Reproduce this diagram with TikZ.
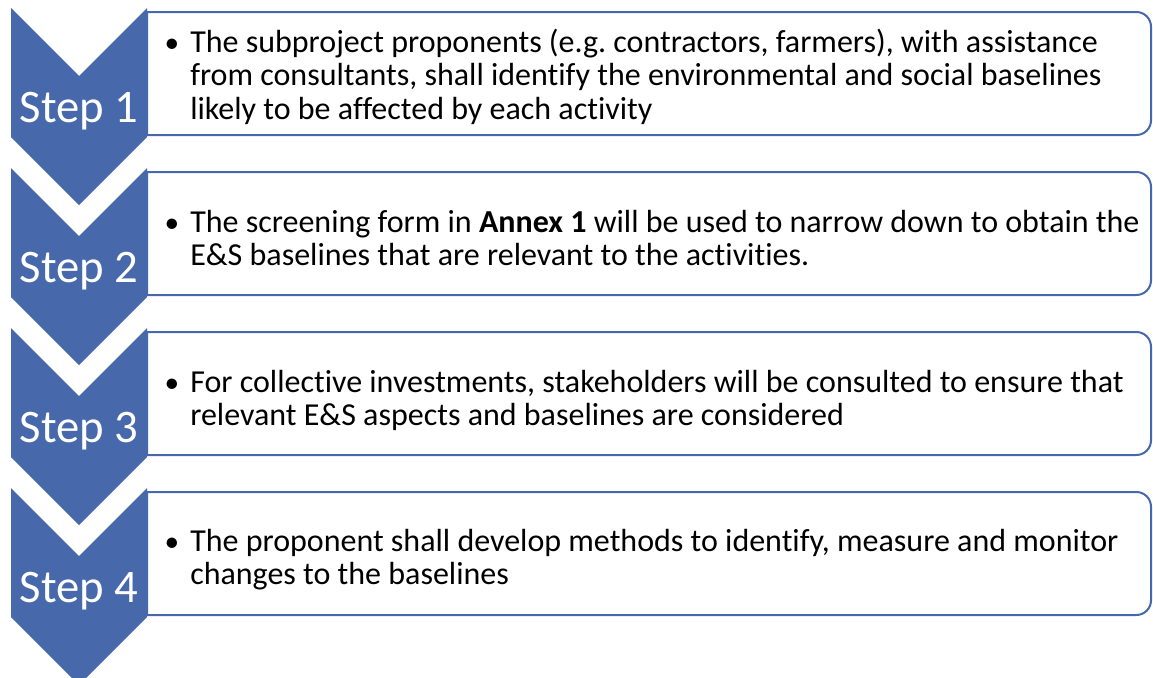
\documentclass[tikz,border=0pt]{standalone}
\usepackage{fontspec}
\setmainfont{Carlito}[Ligatures=NoCommon]
\usepackage{tikz}
\usetikzlibrary{positioning}
\definecolor{stepblue}{RGB}{72,104,172}
\frenchspacing

\begin{document}
\begin{tikzpicture}[x=0.75pt, y=-0.75pt,
    chevron/.style={fill=stepblue},
    stepbox/.style={draw=stepblue, line width=1.5pt, fill=white},
    steplabel/.style={white, anchor=base, inner sep=0pt, font=\fontsize{35}{42}\selectfont},
    bullet/.style={anchor=base, inner sep=0pt, font=\fontsize{22}{25}\selectfont},
    bodytext/.style={anchor=base west, align=left, inner sep=0pt, font=\fontsize{24}{25.1}\selectfont}]
    \useasboundingbox (0,0) rectangle (1153,678);
    \foreach \k in {1,...,4} {
        \pgfmathsetmacro{\dy}{160*(\k-1)}
        \draw[stepbox] (147,12+\dy) [rounded corners=11pt] -- (1151,12+\dy) -- (1151,135+\dy) [sharp corners] -- (147,135+\dy) -- cycle;
        \fill[chevron] (11,8+\dy) -- (79,76+\dy) -- (147,8+\dy) -- (147,137+\dy) -- (79,205+\dy) -- (11,137+\dy) -- cycle;
        \node[steplabel] (step\k) at (79,122+\dy) {Step \k};
    }

    % bullets, texts set from the last line's baseline
    \node[bullet] (bul1) at (172,52) {\textbullet};
    \node[bodytext] (txt1) at (190,119) {The subproject proponents (e.g. contractors, farmers), with assistance\\
        from consultants, shall identify the environmental and social baselines\\
        likely to be affected by each activity};
    \node[bullet] (bul2) at (172,232) {\textbullet};
    \node[bodytext] (txt2) at (190,265.5) {The screening form in \textbf{Annex 1} will be used to narrow down to obtain the\\
        E\&S baselines that are relevant to the activities.};
    \node[bullet] (bul3) at (172,392) {\textbullet};
    \node[bodytext] (txt3) at (190,425.5) {For collective investments, stakeholders will be consulted to ensure that\\
        relevant E\&S aspects and baselines are considered};
    \node[bullet] (bul4) at (172,551) {\textbullet};
    \node[bodytext] (txt4) at (190,584.5) {The proponent shall develop methods to identify, measure and monitor\\
        changes to the baselines};
\end{tikzpicture}
\end{document}
